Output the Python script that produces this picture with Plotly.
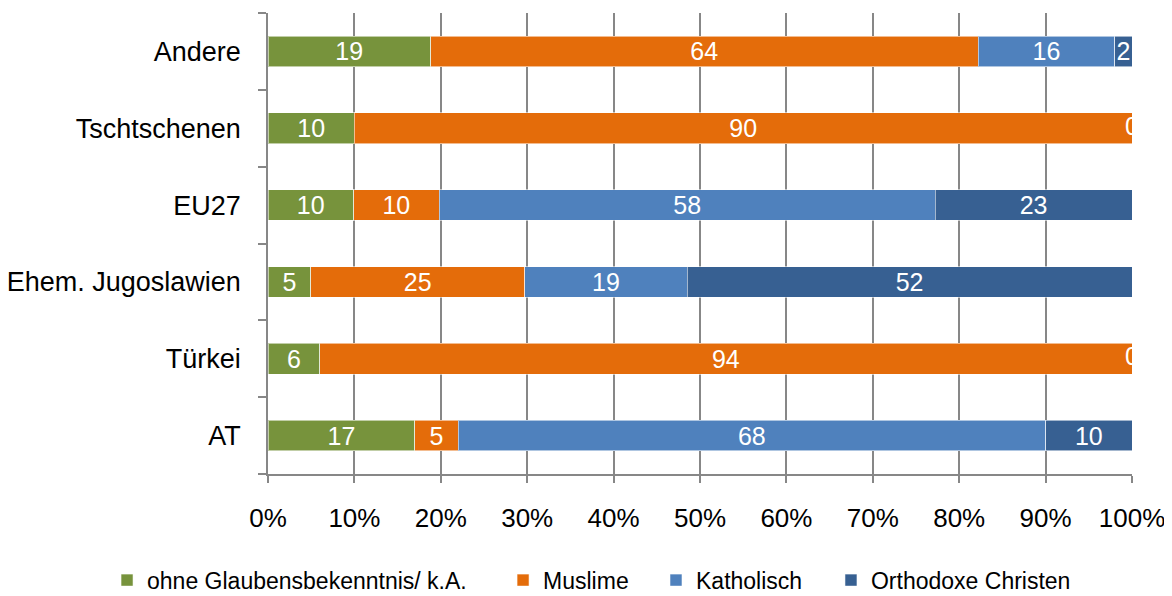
import plotly.graph_objects as go

categories = ["AT", "Türkei", "Ehem. Jugoslawien", "EU27", "Tschtschenen", "Andere"]
series_names = ["ohne Glaubensbekenntnis/ k.A.", "Muslime", "Katholisch", "Orthodoxe Christen"]
ohne = [17, 6, 5, 10, 10, 19]
muslime = [5, 94, 25, 10, 90, 64]
katholisch = [68, 0, 19, 58, 0, 16]
orthodox = [10, 0, 52, 23, 0, 2]
colors = ["#77933C", "#E46C0A", "#4F81BD", "#376092"]
x_ticks = [0, 10, 20, 30, 40, 50, 60, 70, 80, 90, 100]
x_ticktext = [f"{v}%" for v in x_ticks]

FONT = "Arial, Liberation Sans, sans-serif"
series = [ohne, muslime, katholisch, orthodox]
legend_ids = ["legend", "legend2", "legend3", "legend4"]
legend_x = [0.0845, 0.4224, 0.5529, 0.7022]

fig = go.Figure()
for name, vals, col, lid in zip(series_names, series, colors, legend_ids):
    fig.add_trace(go.Bar(
        y=categories, x=vals, name=name, orientation="h", legend=lid,
        marker=dict(color=col, line=dict(color="rgba(255,255,255,0.55)", width=1)),
        text=[str(v) if v != 0 else "" for v in vals],
        textposition="inside", insidetextanchor="middle", textangle=0,
        insidetextfont=dict(color="white", size=25, family=FONT),
        hoverinfo="skip",
    ))

# labels for zero-valued segments, placed at their (normalized) stacked position
totals = [sum(s[i] for s in series) for i in range(len(categories))]
zx, zy, zt = [], [], []
for i, cat in enumerate(categories):
    cum = 0
    for s in series:
        cum += s[i]
        if s[i] == 0:
            zx.append(100 * cum / totals[i])
            zy.append(cat)
            zt.append("0")
            break
fig.add_trace(go.Scatter(
    x=zx, y=zy, text=zt, mode="text", textposition="middle center",
    textfont=dict(color="white", size=25, family=FONT),
    showlegend=False, hoverinfo="skip", cliponaxis=True,
))

legend_common = dict(
    orientation="h", xref="container", yref="container",
    xanchor="left", y=0.04, yanchor="middle",
    font=dict(size=23, family=FONT, color="black"),
    bgcolor="rgba(0,0,0,0)",
)

fig.update_layout(
    width=1172, height=596,
    barmode="stack", barnorm="percent", bargap=0.6,
    plot_bgcolor="white", paper_bgcolor="white",
    margin=dict(l=260, r=48, t=5, b=130),
    font=dict(family=FONT, color="black"),
    uniformtext=dict(minsize=25, mode="show"),
    xaxis=dict(
        range=[0, 100], tickmode="array", tickvals=x_ticks, ticktext=x_ticktext,
        showgrid=True, gridcolor="#878787", gridwidth=1.5,
        showline=True, linecolor="#878787", linewidth=1.5,
        ticks="outside", ticklen=7, tickcolor="#878787", tickwidth=1.5,
        tickfont=dict(size=26, family=FONT, color="black"),
        ticklabelstandoff=13, zeroline=False, automargin=False,
    ),
    yaxis=dict(
        categoryorder="array", categoryarray=categories,
        showline=True, linecolor="#878787", linewidth=1.5,
        ticks="outside", ticklen=8, tickcolor="#878787", tickwidth=1.5,
        tickson="boundaries",
        tickfont=dict(size=27, family=FONT, color="black"),
        ticklabelstandoff=20, showgrid=False, automargin=False,
    ),
)
for lid, lx in zip(legend_ids, legend_x):
    fig.update_layout({lid: dict(legend_common, x=lx)})

fig.write_html("out.html")
